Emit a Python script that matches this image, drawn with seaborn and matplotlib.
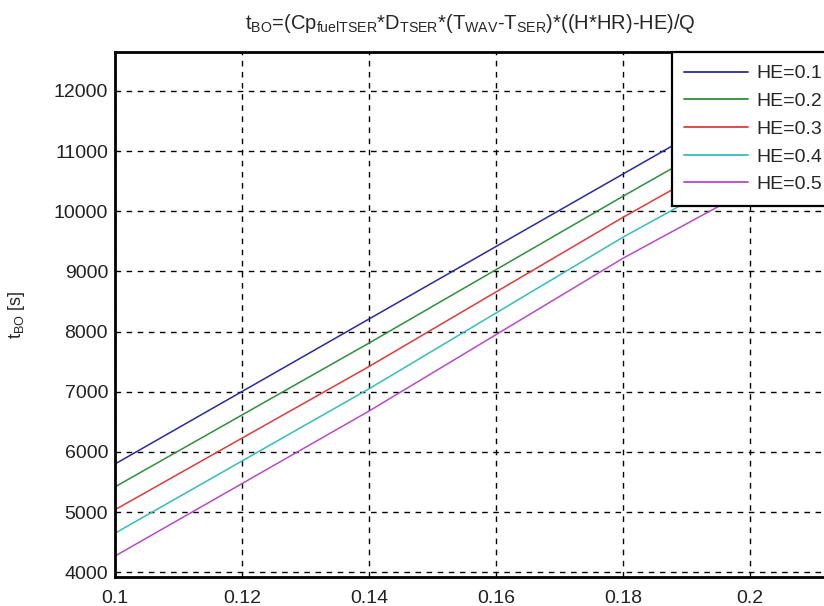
import matplotlib
matplotlib.use("Agg")
import matplotlib.pyplot as plt
import seaborn as sns
import pandas as pd

x_vals = [0.10, 0.14, 0.18, 0.22]
he_labels = ["HE=0.1", "HE=0.2", "HE=0.3", "HE=0.4", "HE=0.5"]
t_he01 = [5800, 8210, 10620, 13030]
t_he02 = [5420, 7810, 10250, 12650]
t_he03 = [5040, 7420, 9900, 12270]
t_he04 = [4650, 7050, 9570, 11890]
t_he05 = [4270, 6680, 9220, 11510]
x_ticks = [0.1, 0.12, 0.14, 0.16, 0.18, 0.2]
x_tick_labels = ["0.1", "0.12", "0.14", "0.16", "0.18", "0.2"]
y_ticks = [4000, 5000, 6000, 7000, 8000, 9000, 10000, 11000, 12000]
colors = ["#2a2a9c", "#2e8f3a", "#e23a3a", "#35bcbc", "#b84ac6"]

series = [t_he01, t_he02, t_he03, t_he04, t_he05]
rows = []
for lab, ys in zip(he_labels, series):
    for xv, yv in zip(x_vals, ys):
        rows.append({"x": xv, "t": yv, "HE": lab})
df = pd.DataFrame(rows)

sns.set_style("white")
plt.rcParams["font.family"] = ["Liberation Sans", "DejaVu Sans"]
plt.rcParams["mathtext.fontset"] = "custom"
plt.rcParams["mathtext.rm"] = "Liberation Sans"
plt.rcParams["mathtext.it"] = "Liberation Sans"

fig = plt.figure(figsize=(8.24, 6.06), dpi=100)
W, H = 824, 606
left, right, top, bottom = 115, 826, 52.3, 577.3
ax = fig.add_axes([left / W, 1 - bottom / H, (right - left) / W, (bottom - top) / H])

sns.lineplot(data=df, x="x", y="t", hue="HE", palette=colors, ax=ax,
             linewidth=1.1, legend=False, sort=False)

ax.set_xlim(0.1, 0.1 + (right - left) / 6350.0)
ax.set_ylim(3917, 12643)
ax.set_xticks(x_ticks)
ax.set_xticklabels(x_tick_labels)
ax.set_yticks(y_ticks)
ax.tick_params(axis="both", direction="in", length=4, width=1.2, labelsize=14,
               colors="#222222")
ax.tick_params(axis="x", pad=9)
ax.tick_params(axis="y", pad=5)
ax.grid(True, color="black", linestyle=(0, (4, 4)), linewidth=1.0)
for s in ax.spines.values():
    s.set_visible(True)
    s.set_color("black")
    s.set_linewidth(2.0)

ax.set_xlabel("")
ax.set_ylabel("t$_{\\mathrm{BO}}$ [s]", fontsize=13, labelpad=19)
ax.set_title("t$_{\\mathrm{BO}}$=(Cp$_{\\mathrm{fuelTSER}}$*D$_{\\mathrm{TSER}}$*(T$_{\\mathrm{WAV}}$-T$_{\\mathrm{SER}}$)*((H*HR)-HE)/Q",
             fontsize=14.5, pad=17)

handles = [plt.Line2D([0], [0], color=c, linewidth=1.3) for c in colors]
axw = right - left
axh = bottom - top
leg = ax.legend(handles, he_labels, loc="upper left", mode="expand",
                bbox_to_anchor=((671.7 - left) / axw, 0.0, 200.0 / axw, 1.0),
                fontsize=14, frameon=True, fancybox=False, borderpad=0.64,
                labelspacing=0.52, handlelength=3.3, handletextpad=0.4,
                borderaxespad=0.0)
leg.get_frame().set_edgecolor("black")
leg.get_frame().set_linewidth(1.6)
leg.get_frame().set_alpha(1.0)

fig.savefig("out.png", dpi=100)
